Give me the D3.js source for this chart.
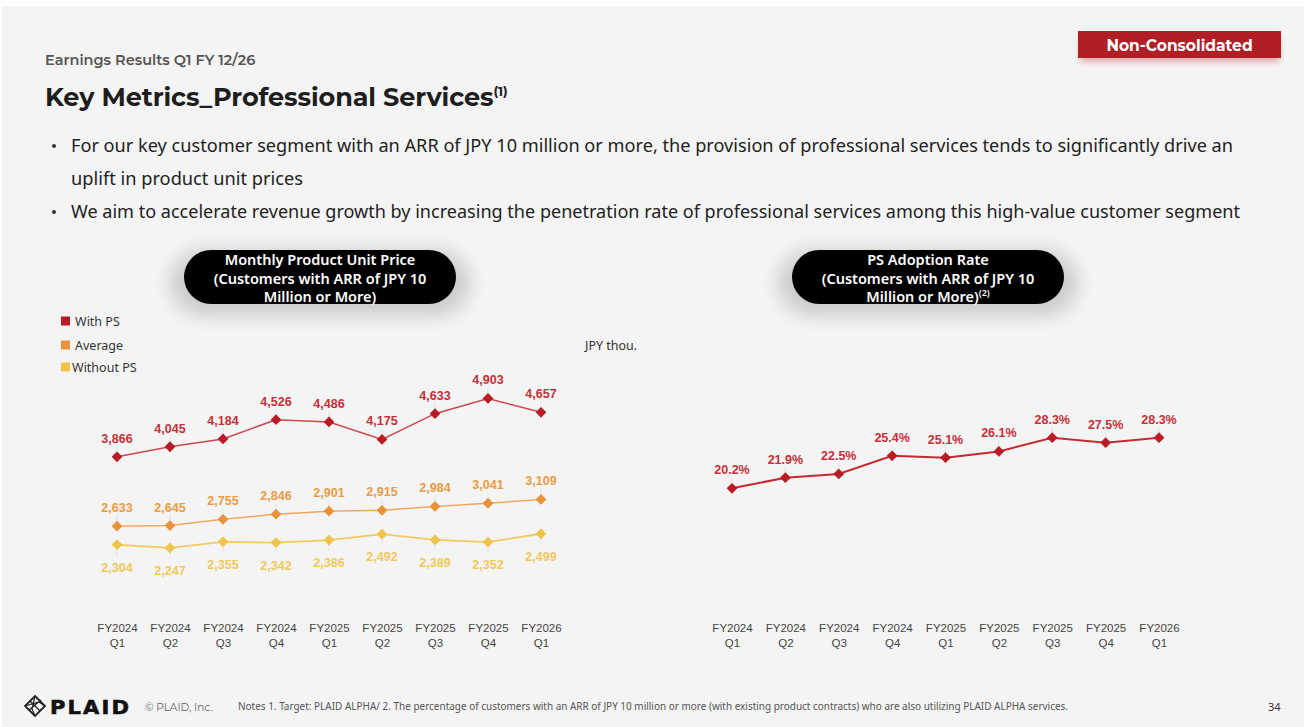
<!DOCTYPE html>
<html>
<head>
<meta charset="utf-8">
<script src="https://cdn.jsdelivr.net/npm/d3@7"></script>
<style>
  body { margin:0; background:#fff; }
  svg { display:block; }
</style>
</head>
<body>
<div id="slide"></div>
<script>
// chart values
var quarters = ["FY2024 Q1","FY2024 Q2","FY2024 Q3","FY2024 Q4","FY2025 Q1","FY2025 Q2","FY2025 Q3","FY2025 Q4","FY2026 Q1"];
var withPS = [3866,4045,4184,4526,4486,4175,4633,4903,4657];
var average = [2633,2645,2755,2846,2901,2915,2984,3041,3109];
var withoutPS = [2304,2247,2355,2342,2386,2492,2389,2352,2499];
var adoptionRate = [20.2,21.9,22.5,25.4,25.1,26.1,28.3,27.5,28.3];
var legendNames = ["With PS","Average","Without PS"];

var bullets = [
  ["For our key customer segment with an ARR of JPY 10 million or more, the provision of professional services tends to significantly drive an", 1162],
  ["uplift in product unit prices", 232],
  ["We aim to accelerate revenue growth by increasing the penetration rate of professional services among this high-value customer segment", 1169]
];

var W = 1304, H = 727;
var condensed = "'Noto Sans', 'Open Sans', sans-serif";
var arial = "'Liberation Sans', Arial, sans-serif";

var svg = d3.select('#slide').append('svg')
    .attr('width', W).attr('height', H);

var defs = svg.append('defs');
var blur = defs.append('filter').attr('id','halo').attr('x','-30%').attr('y','-60%').attr('width','160%').attr('height','240%');
blur.append('feGaussianBlur').attr('stdDeviation', 9);
var blur2 = defs.append('filter').attr('id','soft').attr('x','-20%').attr('y','-80%').attr('width','140%').attr('height','260%');
blur2.append('feGaussianBlur').attr('stdDeviation', 3);

// slide background
svg.append('rect').attr('x',2).attr('y',6).attr('width',W-2).attr('height',H-6).attr('fill','#f4f4f4');

// header
svg.append('text').attr('x',45).attr('y',65)
    .attr('font-family','Montserrat, Inter, sans-serif').attr('font-weight',600)
    .attr('font-size',14.5).attr('fill','#555').text('Earnings Results Q1 FY 12/26');

var title = svg.append('text').attr('x',45).attr('y',106)
    .attr('font-family','Montserrat, Inter, sans-serif').attr('font-weight',700)
    .attr('font-size',25.5).attr('fill','#1e1e1e').attr('letter-spacing',-0.1)
    .text('Key Metrics_Professional Services');
title.append('tspan').attr('dy',-10).attr('font-size',13).text('(1)');

// non-consolidated tag
svg.append('rect').attr('x',1080).attr('y',38).attr('width',200).attr('height',24)
    .attr('fill','#c0282f').attr('opacity',0.35).attr('filter','url(#soft)');
svg.append('rect').attr('x',1078).attr('y',31).attr('width',203).attr('height',27).attr('fill','#b01f26');
svg.append('text').attr('x',1179.5).attr('y',50.5).attr('text-anchor','middle')
    .attr('font-family','Montserrat, Inter, sans-serif').attr('font-weight',700)
    .attr('font-size',15.5).attr('fill','#fff').text('Non-Consolidated');

// bullets
var bulletY = [152, 185, 218];
bullets.forEach(function(b, i){
  if (i !== 1) {
    svg.append('circle').attr('cx',54).attr('cy',bulletY[i]-6).attr('r',2).attr('fill','#333');
  }
  svg.append('text').attr('x',71).attr('y',bulletY[i])
    .attr('font-family',condensed).attr('font-size',18.5).attr('fill','#222')
    .attr('textLength',b[1]).attr('lengthAdjust','spacingAndGlyphs')
    .text(b[0]);
});

// black pill titles
function pill(cx, lines, sup) {
  var g = svg.append('g');
  g.append('rect').attr('x',cx-150).attr('y',250).attr('width',300).attr('height',66)
    .attr('rx',33).attr('fill','#000').attr('opacity',0.16).attr('filter','url(#halo)');
  g.append('rect').attr('x',cx-136).attr('y',250).attr('width',272).attr('height',54)
    .attr('rx',27).attr('fill','#000');
  lines.forEach(function(l, i){
    var t = g.append('text').attr('x',cx).attr('y',265 + i*18.5).attr('text-anchor','middle')
      .attr('font-family',condensed).attr('font-weight',600).attr('font-size',14.5)
      .attr('fill','#fff').text(l);
    if (sup && i === lines.length-1) {
      t.append('tspan').attr('dy',-6).attr('font-size',9).text(sup);
    }
  });
}
pill(320, ['Monthly Product Unit Price','(Customers with ARR of JPY 10','Million or More)']);
pill(928, ['PS Adoption Rate','(Customers with ARR of JPY 10','Million or More)'], '(2)');

// legend
var legendColors = ['#b81c24','#e8923a','#efc44a'];
var legendY = [321, 345, 367];
legendNames.forEach(function(n, i){
  svg.append('rect').attr('x',61).attr('y',legendY[i]-4.5).attr('width',9).attr('height',9).attr('fill',legendColors[i]);
  svg.append('text').attr('x', i === 2 ? 72 : 75).attr('y',legendY[i]+4.5)
    .attr('font-family',condensed).attr('font-size',12.5).attr('fill','#333').text(n);
});
svg.append('text').attr('x',585).attr('y',350)
  .attr('font-family',condensed).attr('font-size',12.5).attr('fill','#333').text('JPY thou.');

// ---- left chart ----
var xL = d3.scalePoint().domain(quarters).range([117, 541]);
var yL = d3.scaleLinear().domain([0, 5000]).range([674.4, 393.0]);

var diamond = d3.symbol().type(d3.symbolSquare).size(58);

function drawSeries(xs, ys, vals, lineColor, markColor, labelColor, above, fmt, lw) {
  var g = svg.append('g');
  // faint leader lines
  g.selectAll('.lead').data(vals).enter().append('line')
    .attr('x1', function(d,i){ return xs(quarters[i]); })
    .attr('x2', function(d,i){ return xs(quarters[i]); })
    .attr('y1', function(d){ return ys(d); })
    .attr('y2', function(d){ return ys(d) + (above ? -11 : 11); })
    .attr('stroke','#e2e2e2').attr('stroke-width',1);
  var line = d3.line()
    .x(function(d,i){ return xs(quarters[i]); })
    .y(function(d){ return ys(d); });
  g.append('path').datum(vals).attr('d',line)
    .attr('fill','none').attr('stroke',lineColor).attr('stroke-width',lw);
  g.selectAll('.mk').data(vals).enter().append('path')
    .attr('d',diamond)
    .attr('transform', function(d,i){ return 'translate(' + xs(quarters[i]) + ',' + ys(d) + ') rotate(45)'; })
    .attr('fill',markColor);
  g.selectAll('.lb').data(vals).enter().append('text')
    .attr('x', function(d,i){ return xs(quarters[i]); })
    .attr('y', function(d){ return ys(d) + (above ? -14 : 27); })
    .attr('text-anchor','middle')
    .attr('font-family',arial).attr('font-weight',700).attr('font-size',12.5)
    .attr('fill',labelColor).text(fmt);
}

var comma = d3.format(',');
drawSeries(xL, yL, withPS, '#cc4850', '#b81c24', '#c5303a', true, comma, 1.5);
drawSeries(xL, yL, average, '#eda862', '#e8923a', '#eb9a45', true, comma, 1.5);
drawSeries(xL, yL, withoutPS, '#f2ca5e', '#efc44a', '#f1c85a', false, comma, 1.8);

// ---- right chart ----
var xR = d3.scalePoint().domain(quarters).range([732, 1159]);
var yR = d3.scaleLinear().domain([0, 30]).range([614.6, 427.1]);
drawSeries(xR, yR, adoptionRate, '#c42a33', '#b81c24', '#c5303a', true, function(d){ return d.toFixed(1) + '%'; }, 2);

// x axis labels (two lines each, no axis line)
function xLabels(xs) {
  var ax = d3.axisBottom(xs).tickSize(0).tickPadding(0);
  var g = svg.append('g').attr('transform','translate(0,624)').call(ax);
  g.select('.domain').remove();
  g.selectAll('.tick text').each(function(d){
    var parts = d.split(' ');
    var t = d3.select(this).text(null)
      .attr('font-family',arial).attr('font-size',11.5).attr('fill','#444').attr('y',0);
    t.append('tspan').attr('x',0).attr('dy','0.71em').text(parts[0]);
    t.append('tspan').attr('x',0).attr('dy','1.25em').text(parts[1]);
  });
}
xLabels(xL);
xLabels(xR);

// footer: logo
var logo = svg.append('g').attr('transform','translate(35,706)');
logo.append('path').attr('d','M0,-10 L10,0 L0,10 L-10,0 Z').attr('fill','none').attr('stroke','#222').attr('stroke-width',1.8);
logo.append('path').attr('d','M-5,-5 L5,5 M0,-10 L-3,3 L0,10 M-10,0 L4,-4 L10,0 M-6,4 L6,-6')
  .attr('fill','none').attr('stroke','#222').attr('stroke-width',1.2);
svg.append('text').attr('x',50).attr('y',714)
  .attr('font-family',"'DejaVu Sans', sans-serif").attr('font-weight',700)
  .attr('font-size',20).attr('letter-spacing',2).attr('fill','#111')
  .attr('stroke','#111').attr('stroke-width',0.6)
  .attr('textLength',81).attr('lengthAdjust','spacingAndGlyphs').text('PLAID');
svg.append('text').attr('x',145).attr('y',710.5)
  .attr('font-family','Montserrat, Inter, sans-serif').attr('font-size',10.5).attr('fill','#666')
  .text('\u00A9 PLAID, Inc.');
svg.append('text').attr('x',238).attr('y',709.5)
  .attr('font-family',condensed).attr('font-size',10).attr('fill','#555')
  .attr('textLength',830).attr('lengthAdjust','spacingAndGlyphs')
  .text('Notes 1. Target: PLAID ALPHA/ 2. The percentage of customers with an ARR of JPY 10 million or more (with existing product contracts) who are also utilizing PLAID ALPHA services.');
svg.append('text').attr('x',1268).attr('y',710.5)
  .attr('font-family',condensed).attr('font-size',11).attr('fill','#333').text('34');
</script>
</body>
</html>
